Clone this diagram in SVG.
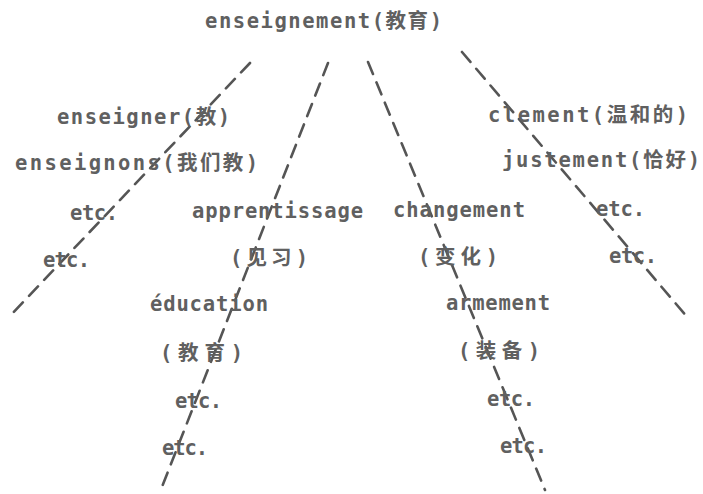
<svg xmlns="http://www.w3.org/2000/svg" width="703" height="494" viewBox="0 0 703 494">
<style>
.t{font-family:"DejaVu Sans Mono","Liberation Mono","Noto Sans CJK SC",monospace;font-weight:bold;font-size:20.5px;fill:#606060}
.c{fill:none;stroke:#555;stroke-width:2.6;stroke-dasharray:13 9;stroke-linecap:round}
</style>
<rect width="703" height="494" fill="#fff"/>
<g id="connectors">
<line class="c" x1="250" y1="63" x2="8" y2="318"/>
<line class="c" x1="328" y1="63" x2="160" y2="492"/>
<line class="c" x1="368" y1="62" x2="545" y2="490"/>
<line class="c" x1="462" y1="52" x2="688" y2="318"/>
</g>
<g id="root"><text class="t" x="205" y="28" textLength="237">enseignement(教育)</text></g>
<g id="enseigner"><text class="t" x="57" y="124" textLength="173">enseigner(教)</text></g>
<g id="enseignons"><text class="t" x="15" y="170" textLength="243">enseignons(我们教)</text></g>
<g id="etc1a"><text class="t" x="70" y="220" textLength="48">etc.</text></g>
<g id="etc1b"><text class="t" x="43" y="267" textLength="47">etc.</text></g>
<g id="apprentissage"><text class="t" x="192" y="218" textLength="171">apprentissage</text><text class="t" x="230" y="265" textLength="78">(见习)</text></g>
<g id="education"><text class="t" x="150" y="311" textLength="118">éducation</text><text class="t" x="160" y="360" textLength="83">(教育)</text></g>
<g id="etc2a"><text class="t" x="175" y="408" textLength="47">etc.</text></g>
<g id="etc2b"><text class="t" x="162" y="455" textLength="46">etc.</text></g>
<g id="changement"><text class="t" x="393" y="217" textLength="132">changement</text><text class="t" x="418" y="264" textLength="80">(变化)</text></g>
<g id="armement"><text class="t" x="446" y="310" textLength="104">armement</text><text class="t" x="458" y="358" textLength="82">(装备)</text></g>
<g id="etc3a"><text class="t" x="487" y="406" textLength="48">etc.</text></g>
<g id="etc3b"><text class="t" x="500" y="453" textLength="47">etc.</text></g>
<g id="clement"><text class="t" x="488" y="122" textLength="200">clement(温和的)</text></g>
<g id="justement"><text class="t" x="502" y="167" textLength="198">justement(恰好)</text></g>
<g id="etc4a"><text class="t" x="596" y="216" textLength="49">etc.</text></g>
<g id="etc4b"><text class="t" x="609" y="263" textLength="48">etc.</text></g>
</svg>
